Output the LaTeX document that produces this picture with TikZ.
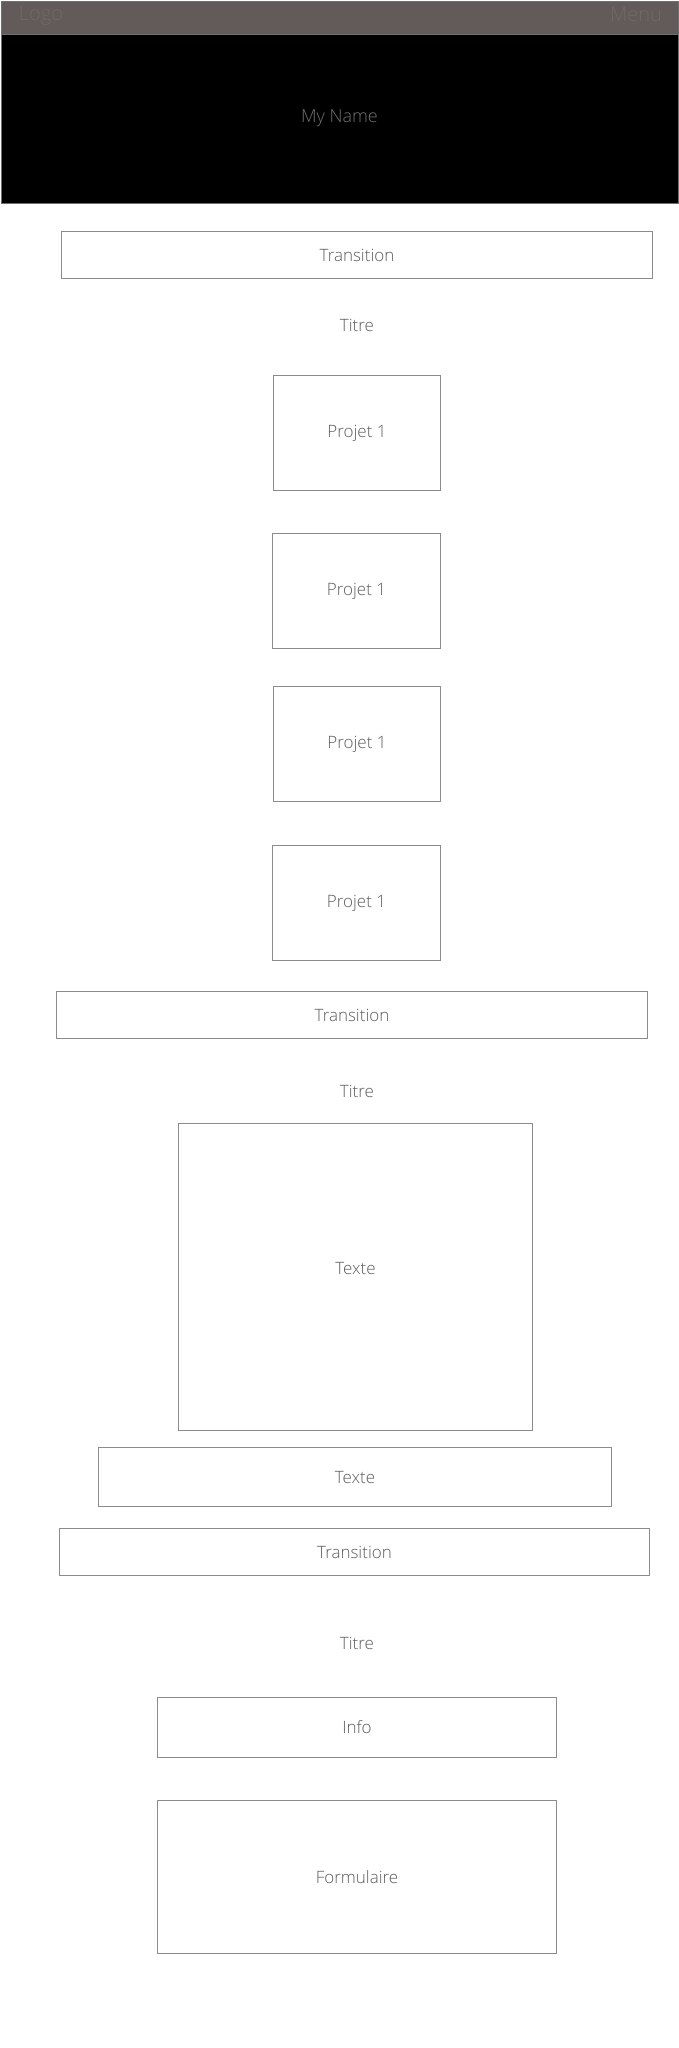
\documentclass[tikz,border=0pt]{standalone}
\usepackage{fontspec}
\IfFontExistsTF{Open Sans Light}{\setmainfont{Open Sans Light}}{\setmainfont{Open Sans}}
\begin{document}
\begin{tikzpicture}[x=1pt,y=-1pt,
  box/.style={draw=boxgray, line width=1pt, anchor=north west, inner sep=0pt, text=txtgray, font=\fontsize{17}{20}\selectfont},
  lbl/.style={text=txtgray, inner sep=0pt, font=\fontsize{17}{20}\selectfont},
  hdr/.style={text=hdrtxt, inner sep=0pt, font=\fontsize{20}{24}\selectfont}]
\definecolor{boxgray}{HTML}{8C8C8C}
\definecolor{txtgray}{HTML}{5C5C5C}
\definecolor{bargray}{HTML}{625B59}
\definecolor{hdrtxt}{HTML}{6F6967}
\definecolor{nametxt}{HTML}{707070}
\definecolor{edgegray}{HTML}{6F6F6F}
\useasboundingbox (0,0) rectangle (678,2048);
\fill[white] (0,0) rectangle (678,2048);
% header
\node[draw=edgegray, fill=bargray, line width=1pt, anchor=north west, minimum width=677, minimum height=33, inner sep=0pt] (bar) at (0.5,0.5) {};
\node[draw=edgegray, fill=black, line width=1pt, anchor=north west, minimum width=677, minimum height=169, inner sep=0pt] (hero) at (0.5,33.5) {};
\node[hdr] (logo) at (41,15.5) {Logo};
\node[hdr] (menu) at (636,14) {Menu};
\node[text=nametxt, inner sep=0pt, font=\fontsize{18}{22}\selectfont] (name) at (hero.center) {My Name};
% section 1
\node[box, minimum width=591, minimum height=47] (tr1) at (61,231) {Transition};
\node[lbl] (t1) at (357,325) {Titre};
\node[box, minimum width=167, minimum height=115] (p1) at (273,375) {Projet 1};
\node[box, minimum width=168, minimum height=115] (p2) at (272,533) {Projet 1};
\node[box, minimum width=167, minimum height=115] (p3) at (273,686) {Projet 1};
\node[box, minimum width=168, minimum height=115] (p4) at (272,845) {Projet 1};
% section 2
\node[box, minimum width=591, minimum height=47] (tr2) at (56,991) {Transition};
\node[lbl] (t2) at (357,1091) {Titre};
\node[box, minimum width=354, minimum height=307] (tx1) at (178,1123) {};
\node[lbl] (tx1lbl) at ([yshift=9pt]tx1.center) {Texte};
\node[box, minimum width=513, minimum height=59] (tx2) at (98,1447) {Texte};
% section 3
\node[box, minimum width=590, minimum height=47] (tr3) at (59,1528) {Transition};
\node[lbl] (t3) at (357,1643) {Titre};
\node[box, minimum width=399, minimum height=60] (info) at (157,1697) {Info};
\node[box, minimum width=399, minimum height=153] (form) at (157,1800) {Formulaire};
\end{tikzpicture}
\end{document}
